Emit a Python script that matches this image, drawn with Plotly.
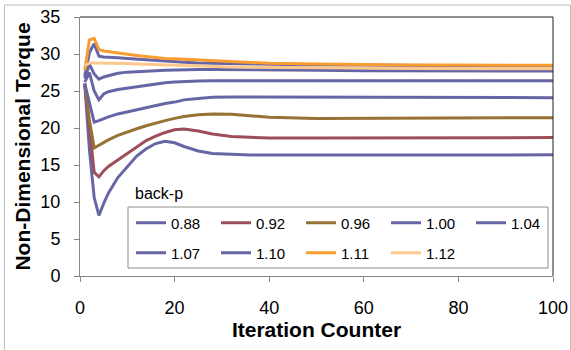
import plotly.graph_objects as go

# Iteration numbers at which the torque history was sampled
iterations = [1, 2, 3, 4, 5, 6, 8, 10, 12, 14, 16, 18, 20, 22, 25, 28, 32, 36, 40,
              50, 60, 70, 80, 90, 100]

# Non-dimensional torque history for each back-pressure ratio
bp_088 = [26.0, 17.0, 10.6, 8.2, 9.8, 11.2, 13.3, 14.8, 16.2, 17.2, 17.9, 18.2, 18.0,
          17.5, 16.9, 16.55, 16.4, 16.35, 16.35, 16.35, 16.35, 16.35, 16.37, 16.37, 16.37]
bp_092 = [26.0, 19.6, 14.0, 13.4, 14.2, 14.8, 15.7, 16.6, 17.5, 18.3, 18.9, 19.4, 19.75,
          19.85, 19.6, 19.2, 18.85, 18.7, 18.65, 18.65, 18.65, 18.7, 18.7, 18.7, 18.7]
bp_096 = [26.0, 21.0, 17.3, 17.7, 18.0, 18.4, 19.0, 19.5, 19.9, 20.3, 20.7, 21.0, 21.3,
          21.55, 21.8, 21.9, 21.85, 21.65, 21.45, 21.3, 21.3, 21.35, 21.4, 21.4, 21.4]
bp_100 = [26.0, 23.5, 20.8, 21.0, 21.3, 21.5, 21.9, 22.2, 22.5, 22.8, 23.0, 23.3, 23.5,
          23.8, 24.0, 24.15, 24.2, 24.2, 24.15, 24.1, 24.1, 24.1, 24.1, 24.1, 24.1]
bp_104 = [26.2, 27.5, 25.0, 23.8, 24.6, 24.9, 25.2, 25.4, 25.6, 25.8, 25.95, 26.1, 26.2,
          26.3, 26.35, 26.4, 26.4, 26.4, 26.4, 26.4, 26.4, 26.4, 26.4, 26.4, 26.4]
bp_107 = [26.7, 28.6, 27.3, 26.6, 26.9, 27.1, 27.4, 27.55, 27.65, 27.7, 27.75, 27.8, 27.85,
          27.85, 27.9, 27.9, 27.9, 27.85, 27.85, 27.8, 27.75, 27.75, 27.7, 27.7, 27.7]
bp_110 = [27.0, 30.2, 31.4, 29.7, 29.6, 29.6, 29.5, 29.4, 29.3, 29.2, 29.1, 29.05, 29.0,
          28.9, 28.8, 28.75, 28.7, 28.65, 28.6, 28.5, 28.45, 28.4, 28.4, 28.4, 28.4]
bp_111 = [27.8, 31.9, 32.1, 30.6, 30.4, 30.3, 30.2, 30.0, 29.8, 29.65, 29.5, 29.4, 29.35,
          29.3, 29.15, 29.05, 28.95, 28.85, 28.75, 28.65, 28.55, 28.5, 28.5, 28.5, 28.47]
bp_112 = [28.4, 28.8, 28.8, 28.8, 28.75, 28.75, 28.7, 28.7, 28.65, 28.6, 28.6, 28.55, 28.5,
          28.45, 28.35, 28.3, 28.25, 28.2, 28.2, 28.15, 28.1, 28.05, 28.0, 28.0, 28.0]

series_names = ["0.88", "0.92", "0.96", "1.00", "1.04", "1.07", "1.10", "1.11", "1.12"]
series_values = [bp_088, bp_092, bp_096, bp_100, bp_104, bp_107, bp_110, bp_111, bp_112]

BLUE = "#6666A6"
RED = "#9C4F58"
BROWN = "#977234"
ORANGE = "#F99D31"
LIGHT_ORANGE = "#FCC88E"
series_colors = [BLUE, RED, BROWN, BLUE, BLUE, BLUE, BLUE, ORANGE, LIGHT_ORANGE]

FONT = "Liberation Sans, Arial, sans-serif"
W, H = 571, 350
ML, MR, MT, MB = 80, 18, 17, 74
PW, PH = W - ML - MR, H - MT - MB


def px_x(px):
    return (px - ML) / PW


def px_y(py):
    return (H - MB - py) / PH


fig = go.Figure()
for i, (name, vals, col) in enumerate(zip(series_names, series_values, series_colors)):
    fig.add_trace(go.Scatter(
        x=iterations, y=vals, name=name, mode="lines",
        line=dict(color=col, width=3),
        legend="legend" if i < 5 else "legend2",
    ))

legend_common = dict(
    orientation="h", xanchor="left", yanchor="middle",
    bgcolor="rgba(0,0,0,0)", borderwidth=0,
    font=dict(family=FONT, size=15, color="#000000"),
    entrywidth=40, entrywidthmode="pixels",
    itemclick=False, itemdoubleclick=False,
)

fig.update_layout(
    width=W, height=H,
    margin=dict(l=ML, r=MR, t=MT, b=MB, pad=0, autoexpand=False),
    paper_bgcolor="white", plot_bgcolor="white",
    showlegend=True,
    legend=dict(x=px_x(131), y=px_y(223), **legend_common),
    legend2=dict(x=px_x(131), y=px_y(253), **legend_common),
    xaxis=dict(
        range=[0, 100], tickvals=[0, 20, 40, 60, 80, 100],
        showgrid=False, zeroline=False, automargin=False,
        showline=True, linecolor="#868686", linewidth=1,
        ticks="outside", ticklen=5, tickcolor="#868686",
        ticklabelstandoff=10,
        tickfont=dict(family=FONT, size=18, color="#000000"),
        title=dict(text="<b>Iteration Counter</b>", standoff=4,
                   font=dict(family=FONT, size=21, color="#000000")),
    ),
    yaxis=dict(
        range=[0, 35], tickvals=[0, 5, 10, 15, 20, 25, 30, 35],
        showgrid=False, zeroline=False, automargin=False,
        showline=True, linecolor="#868686", linewidth=1,
        ticks="outside", ticklen=5, tickcolor="#868686",
        ticklabelstandoff=10,
        tickfont=dict(family=FONT, size=18, color="#000000"),
        title=dict(text="<b>Non-Dimensional Torque</b>", standoff=4,
                   font=dict(family=FONT, size=21, color="#000000")),
    ),
    shapes=[
        # plot-area frame along the top and right edges
        dict(type="path", xref="paper", yref="paper",
             path="M 0,1 L 1,1 L 1,0", line=dict(color="#222222", width=1)),
        # chart-area outline
        dict(type="path", xref="paper", yref="paper",
             path=f"M {px_x(4.5)},{px_y(360)} L {px_x(4.5)},{px_y(5)} L {px_x(570.5)},{px_y(5)} L {px_x(570.5)},{px_y(360)}",
             line=dict(color="#BDBDBD", width=1)),
        # legend box
        dict(type="rect", xref="paper", yref="paper",
             x0=px_x(128), x1=px_x(548), y0=px_y(268), y1=px_y(207),
             line=dict(color="#8C8C8C", width=1), fillcolor="rgba(0,0,0,0)"),
    ],
    annotations=[
        dict(text="back-p", xref="paper", yref="paper", x=px_x(133), y=px_y(193),
             xanchor="left", yanchor="middle", showarrow=False,
             font=dict(family=FONT, size=16, color="#000000")),
    ],
)

fig.write_html("out.html")
